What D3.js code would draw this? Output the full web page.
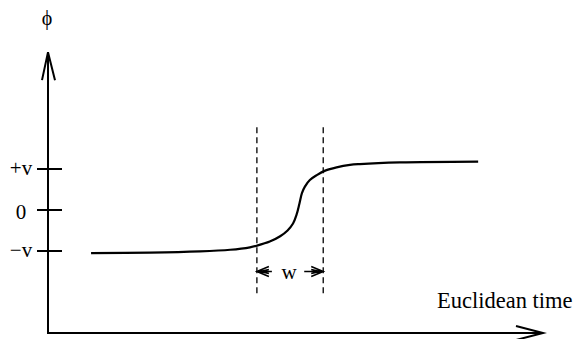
<!DOCTYPE html>
<html>
<head>
<meta charset="utf-8">
<script src="https://cdn.jsdelivr.net/npm/d3@7"></script>
<style>
  body { margin: 0; background: #fff; }
  text { font-family: "Liberation Serif", "Times New Roman", serif; fill: #000; }
</style>
</head>
<body>
<div id="chart"></div>
<script>
// kink profile (t = euclidean time, phi in units of v)
var time = [0.87, 2.06, 3.07, 3.68, 4.08, 4.22, 4.48, 4.69, 4.84, 4.95, 5.02, 5.08, 5.13, 5.19, 5.29, 5.43, 5.60, 5.83, 6.10, 6.30, 7.11, 8.69];
var phi  = [-1.05, -1.04, -1.01, -0.97, -0.91, -0.87, -0.77, -0.64, -0.50, -0.33, -0.12, 0.16, 0.41, 0.57, 0.73, 0.85, 0.96, 1.04, 1.10, 1.12, 1.16, 1.18];

// y ticks
var tick_values = [1, 0, -1];
var tick_labels = ["+v", "0", "\u2212v"];

// wall width markers
var wall_edges = [4.22, 5.56];
var wall_range = [-2.07, 2.02];

// axis labels
var x_label = "Euclidean time";
var y_label = "\u03d5";
var w_label = "w";

// size
var width = 577;
var height = 339;

var svg = d3.select("#chart")
            .append("svg")
            .attr("width", width)
            .attr("height", height);

// scales
var xScale = d3.scaleLinear()
               .domain([0, 10])
               .range([48, 543]);
var yScale = d3.scaleLinear()
               .domain([-3, 4])
               .range([333, 46]);

var x0 = xScale(0);
var y0 = yScale(-3);
var xTip = xScale(10);
var yTip = yScale(3.85);

// axes with open arrow heads
svg.append("line")
   .attr("x1", x0).attr("y1", y0)
   .attr("x2", x0).attr("y2", yTip)
   .attr("stroke", "#000").attr("stroke-width", 2);
svg.append("path")
   .attr("d", "M" + (x0 - 6) + "," + (yTip + 28) + "L" + x0 + "," + yTip + "L" + (x0 + 7) + "," + (yTip + 28))
   .attr("fill", "none").attr("stroke", "#000").attr("stroke-width", 2);
svg.append("line")
   .attr("x1", x0 - 1).attr("y1", y0)
   .attr("x2", xTip).attr("y2", y0)
   .attr("stroke", "#000").attr("stroke-width", 2);
svg.append("path")
   .attr("d", "M" + (xTip - 27) + "," + (y0 - 7) + "L" + xTip + "," + y0 + "L" + (xTip - 27) + "," + (y0 + 7))
   .attr("fill", "none").attr("stroke", "#000").attr("stroke-width", 2);

// ticks and labels
svg.selectAll(".tick")
   .data(tick_values)
   .enter().append("line")
   .attr("class", "tick")
   .attr("x1", x0 - 11).attr("x2", x0 + 14)
   .attr("y1", function(d) { return yScale(d); })
   .attr("y2", function(d) { return yScale(d); })
   .attr("stroke", "#000").attr("stroke-width", 2);
svg.selectAll(".tick_label")
   .data(tick_values)
   .enter().append("text")
   .attr("class", "tick_label")
   .attr("x", 21)
   .attr("y", function(d) { return yScale(d) + (d === 0 ? 9 : 6); })
   .attr("text-anchor", "middle")
   .attr("font-size", 21)
   .text(function(d, i) { return tick_labels[i]; });

// dashed wall edges
svg.selectAll(".edge")
   .data(wall_edges)
   .enter().append("line")
   .attr("class", "edge")
   .attr("x1", function(d) { return xScale(d); })
   .attr("x2", function(d) { return xScale(d); })
   .attr("y1", yScale(wall_range[1]))
   .attr("y2", yScale(wall_range[0]))
   .attr("stroke", "#000")
   .attr("stroke-width", 1.3)
   .attr("stroke-dasharray", "6,4");

// width arrows (doubled heads like the original)
var wy = yScale(-1.5);
var wl = xScale(wall_edges[0]);
var wr = xScale(wall_edges[1]);
var head = function(tip, dir) {
  return "M" + (tip + dir * 12) + "," + (wy - 5) + "L" + tip + "," + wy + "L" + (tip + dir * 12) + "," + (wy + 5) +
         "M" + (tip + dir * 12) + "," + (wy - 2) + "L" + (tip + dir * 3) + "," + wy + "L" + (tip + dir * 12) + "," + (wy + 2);
};
svg.append("path")
   .attr("d", "M" + (wl + 15) + "," + wy + "L" + wl + "," + wy + head(wl, 1) +
              "M" + (wr - 19) + "," + wy + "L" + wr + "," + wy + head(wr, -1))
   .attr("fill", "none").attr("stroke", "#000").attr("stroke-width", 1.6);
svg.append("text")
   .attr("x", (wl + wr) / 2 - 1)
   .attr("y", wy + 7)
   .attr("text-anchor", "middle")
   .attr("font-size", 21)
   .text(w_label);

// profile
var line = d3.line()
             .x(function(d) { return xScale(d[0]); })
             .y(function(d) { return yScale(d[1]); })
             .curve(d3.curveCatmullRom.alpha(0.5));
svg.append("path")
   .datum(d3.zip(time, phi))
   .attr("d", line)
   .attr("fill", "none")
   .attr("stroke", "#000")
   .attr("stroke-width", 2.2);

// axis labels
svg.append("text")
   .attr("x", 437)
   .attr("y", 308)
   .attr("font-size", 22.5)
   .text(x_label);
svg.append("text")
   .attr("x", x0 - 1)
   .attr("y", 25)
   .attr("text-anchor", "middle")
   .attr("font-size", 20)
   .text(y_label);
</script>
</body>
</html>
